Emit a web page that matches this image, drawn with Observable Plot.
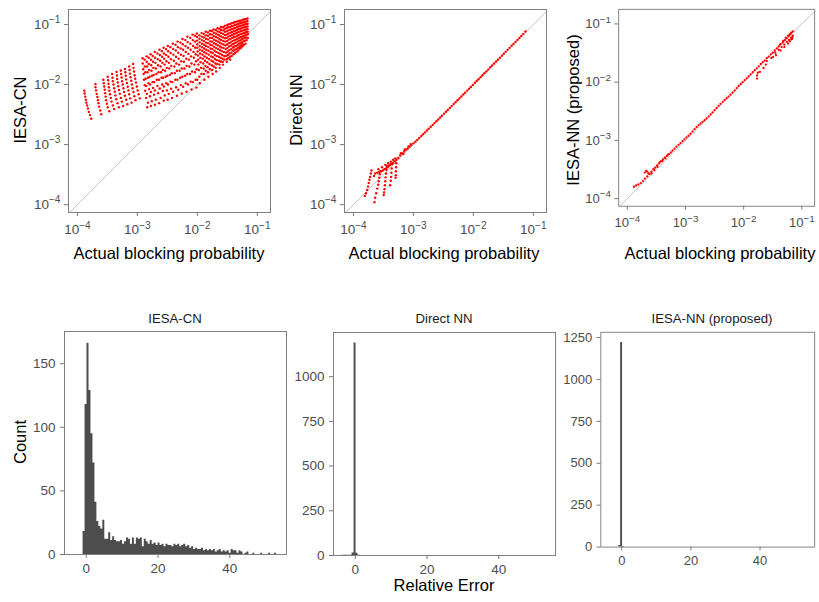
<!DOCTYPE html>
<html><head><meta charset="utf-8">
<script src="https://cdn.jsdelivr.net/npm/d3@7"></script>
<script src="https://cdn.jsdelivr.net/npm/@observablehq/plot@0.6"></script>
<style>
body{margin:0;background:#fff;}
#fig{position:relative;width:819px;height:602px;overflow:hidden;background:#fff;font-family:"Liberation Sans",Arial,sans-serif;}
.panel{position:absolute;}
.lbl{position:absolute;white-space:nowrap;line-height:0.65;transform:translate(-50%,-50%);color:#000;font-size:16.5px;}
.rot{transform:translate(-50%,-50%) rotate(-90deg);}
.strip{font-size:13.2px;color:#1a1a1a;}
</style></head><body><div id="fig"></div>
<script>
// ---------- text ----------
const modelNames = ["IESA-CN", "Direct NN", "IESA-NN (proposed)"];
const xTitle = "Actual blocking probability";
const countTitle = "Count";
const errTitle = "Relative Error";

// ---------- ticks ----------
const decadeTicks = [1e-4, 1e-3, 1e-2, 1e-1];
const errTicks = [0, 20, 40];
const countTicksCN = [0, 50, 100, 150];
const countTicksNN = [0, 250, 500, 750, 1000];
const countTicksProp = [0, 250, 500, 750, 1000, 1250];

// ---------- scatter data: [actual, estimate] ----------
const cnPoints = [
[1.30e-4,7.9e-3],[1.32e-4,7.1e-3],[1.35e-4,6.3e-3],[1.38e-4,5.6e-3],[1.41e-4,5.0e-3],[1.45e-4,4.5e-3],[1.50e-4,4.0e-3],[1.55e-4,3.5e-3],[1.62e-4,3.1e-3],[1.70e-4,2.7e-3],
[2.0e-4,1.02e-2],[2.0e-4,9.0e-3],[2.05e-4,8.0e-3],[2.1e-4,7.0e-3],[2.15e-4,6.2e-3],[2.2e-4,5.5e-3],[2.25e-4,4.9e-3],[2.3e-4,4.3e-3],[2.4e-4,3.7e-3],[2.5e-4,3.2e-3],
[2.7e-4,1.2e-2],[2.75e-4,1.05e-2],[2.8e-4,9.3e-3],[2.85e-4,8.2e-3],[2.9e-4,7.2e-3],[2.95e-4,6.3e-3],[3.0e-4,5.5e-3],[3.1e-4,4.8e-3],[3.2e-4,4.2e-3],[3.4e-4,3.6e-3],
[3.2e-4,1.35e-2],[3.25e-4,1.18e-2],[3.3e-4,1.03e-2],[3.35e-4,9.0e-3],[3.4e-4,7.9e-3],[3.5e-4,6.9e-3],[3.6e-4,6.0e-3],[3.7e-4,5.2e-3],[3.9e-4,4.5e-3],[4.1e-4,3.9e-3],
[3.8e-4,1.5e-2],[3.85e-4,1.3e-2],[3.9e-4,1.14e-2],[4.0e-4,1.0e-2],[4.1e-4,8.7e-3],[4.2e-4,7.6e-3],[4.3e-4,6.6e-3],[4.45e-4,5.7e-3],[4.65e-4,4.9e-3],[4.9e-4,4.2e-3],
[4.5e-4,1.62e-2],[4.55e-4,1.42e-2],[4.6e-4,1.24e-2],[4.7e-4,1.08e-2],[4.8e-4,9.4e-3],[4.95e-4,8.1e-3],[5.1e-4,7.0e-3],[5.3e-4,6.0e-3],[5.5e-4,5.2e-3],[5.8e-4,4.4e-3],
[5.3e-4,1.72e-2],[5.35e-4,1.5e-2],[5.45e-4,1.31e-2],[5.55e-4,1.14e-2],[5.7e-4,1.0e-2],[5.85e-4,8.7e-3],[6.0e-4,7.5e-3],[6.2e-4,6.5e-3],[6.5e-4,5.6e-3],[6.8e-4,4.7e-3],
[6.2e-4,1.82e-2],[6.3e-4,1.6e-2],[6.4e-4,1.4e-2],[6.5e-4,1.22e-2],[6.7e-4,1.06e-2],[6.9e-4,9.2e-3],[7.1e-4,8.0e-3],[7.3e-4,6.9e-3],[7.6e-4,5.9e-3],[8.0e-4,5.0e-3],
[7.3e-4,2.0e-2],[7.4e-4,1.75e-2],[7.5e-4,1.52e-2],[7.7e-4,1.33e-2],[7.9e-4,1.16e-2],[8.1e-4,1.0e-2],[8.3e-4,8.7e-3],[8.6e-4,7.5e-3],[8.9e-4,6.4e-3],[9.3e-4,5.5e-3],
[8.5e-4,2.2e-2],[8.6e-4,1.9e-2],[8.8e-4,1.65e-2],[9.0e-4,1.43e-2],[9.2e-4,1.25e-2],[9.5e-4,1.08e-2],[9.8e-4,9.3e-3],[1.01e-3,8.0e-3],[1.05e-3,6.9e-3],[1.1e-3,5.9e-3],
[1.22e-3,2.75e-2],[1.23e-3,2.25e-2],[1.25e-3,1.8e-2],[1.27e-3,1.5e-2],[1.29e-3,1.2e-2],[1.32e-3,9.8e-3],[1.35e-3,7.9e-3],[1.4e-3,6.0e-3],[1.46e-3,4.2e-3],
[1.32e-3,2.6e-2],[1.33e-3,2.0e-2],[1.35e-3,1.6e-2],[1.37e-3,1.25e-2],[1.4e-3,9.5e-3],[1.44e-3,7.0e-3],[1.5e-3,5.0e-3],
[1.42e-3,2.95e-2],[1.43e-3,2.4e-2],[1.45e-3,2.0e-2],[1.47e-3,1.6e-2],[1.5e-3,1.3e-2],[1.53e-3,1.05e-2],[1.57e-3,8.4e-3],[1.62e-3,6.4e-3],[1.68e-3,4.4e-3],
[1.54e-3,2.8e-2],[1.55e-3,2.2e-2],[1.57e-3,1.75e-2],[1.6e-3,1.35e-2],[1.63e-3,1.0e-2],[1.68e-3,7.5e-3],[1.74e-3,5.3e-3],
[1.66e-3,3.2e-2],[1.68e-3,2.6e-2],[1.7e-3,2.1e-2],[1.72e-3,1.7e-2],[1.75e-3,1.4e-2],[1.79e-3,1.1e-2],[1.83e-3,8.8e-3],[1.89e-3,6.8e-3],[1.96e-3,4.6e-3],
[1.8e-3,3.0e-2],[1.82e-3,2.4e-2],[1.84e-3,1.9e-2],[1.87e-3,1.45e-2],[1.91e-3,1.1e-2],[1.96e-3,8.0e-3],[2.03e-3,5.6e-3],
[1.95e-3,3.5e-2],[1.97e-3,2.8e-2],[2.0e-3,2.3e-2],[2.03e-3,1.85e-2],[2.07e-3,1.5e-2],[2.11e-3,1.2e-2],[2.16e-3,9.5e-3],[2.22e-3,7.2e-3],[2.3e-3,4.9e-3],
[2.16e-3,3.3e-2],[2.18e-3,2.65e-2],[2.21e-3,2.1e-2],[2.25e-3,1.6e-2],[2.3e-3,1.2e-2],[2.36e-3,8.6e-3],[2.44e-3,6.0e-3],
[2.34e-3,3.8e-2],[2.37e-3,3.1e-2],[2.4e-3,2.5e-2],[2.44e-3,2.0e-2],[2.48e-3,1.6e-2],[2.53e-3,1.3e-2],[2.59e-3,1.0e-2],[2.66e-3,7.8e-3],[2.75e-3,5.4e-3],
[2.56e-3,3.6e-2],[2.58e-3,2.9e-2],[2.61e-3,2.3e-2],[2.65e-3,1.75e-2],[2.7e-3,1.3e-2],[2.77e-3,9.3e-3],[2.86e-3,6.6e-3],
[2.74e-3,4.1e-2],[2.77e-3,3.3e-2],[2.8e-3,2.7e-2],[2.85e-3,2.15e-2],[2.9e-3,1.7e-2],[2.96e-3,1.35e-2],[3.03e-3,1.05e-2],[3.11e-3,8.0e-3],[3.2e-3,5.6e-3],
[3.0e-3,3.9e-2],[3.02e-3,3.1e-2],[3.06e-3,2.45e-2],[3.1e-3,1.9e-2],[3.16e-3,1.4e-2],[3.24e-3,1.0e-2],[3.34e-3,7.0e-3],
[3.22e-3,4.4e-2],[3.26e-3,3.6e-2],[3.3e-3,2.9e-2],[3.35e-3,2.3e-2],[3.41e-3,1.85e-2],[3.48e-3,1.45e-2],[3.56e-3,1.12e-2],[3.66e-3,8.5e-3],[3.78e-3,6.0e-3],
[3.55e-3,4.2e-2],[3.58e-3,3.35e-2],[3.62e-3,2.65e-2],[3.67e-3,2.05e-2],[3.74e-3,1.55e-2],[3.83e-3,1.1e-2],[3.95e-3,7.6e-3],
[3.9e-3,4.8e-2],[3.95e-3,3.9e-2],[4.0e-3,3.15e-2],[4.06e-3,2.5e-2],[4.13e-3,2.0e-2],[4.21e-3,1.55e-2],[4.3e-3,1.2e-2],[4.42e-3,9.0e-3],[4.56e-3,6.5e-3],
[4.33e-3,4.6e-2],[4.36e-3,3.7e-2],[4.41e-3,2.9e-2],[4.47e-3,2.25e-2],[4.55e-3,1.7e-2],[4.66e-3,1.2e-2],[4.8e-3,8.2e-3],
[4.68e-3,5.2e-2],[4.74e-3,4.2e-2],[4.8e-3,3.4e-2],[4.87e-3,2.7e-2],[4.96e-3,2.15e-2],[5.06e-3,1.7e-2],[5.18e-3,1.3e-2],[5.32e-3,9.8e-3],[5.5e-3,7.1e-3],
[5.22e-3,5.0e-2],[5.26e-3,4.0e-2],[5.32e-3,3.15e-2],[5.4e-3,2.45e-2],[5.5e-3,1.85e-2],[5.63e-3,1.35e-2],[5.8e-3,9.2e-3],
[5.65e-3,5.75e-2],[5.72e-3,4.7e-2],[5.8e-3,3.8e-2],[5.88e-3,3.0e-2],[5.98e-3,2.4e-2],[6.1e-3,1.85e-2],[6.25e-3,1.4e-2],[6.42e-3,1.05e-2],[6.62e-3,7.6e-3],
[6.3e-3,5.5e-2],[6.35e-3,4.4e-2],[6.42e-3,3.5e-2],[6.52e-3,2.7e-2],[6.64e-3,2.05e-2],[6.8e-3,1.5e-2],[7.0e-3,1.0e-2],
[6.82e-3,6.3e-2],[6.9e-3,5.1e-2],[7.0e-3,4.1e-2],[7.1e-3,3.25e-2],[7.22e-3,2.6e-2],[7.36e-3,2.0e-2],[7.54e-3,1.5e-2],[7.75e-3,1.12e-2],[8.0e-3,8.3e-3],
[7.6e-3,6.0e-2],[7.65e-3,4.8e-2],[7.73e-3,3.8e-2],[7.84e-3,2.95e-2],[7.98e-3,2.25e-2],[8.16e-3,1.65e-2],[8.4e-3,1.1e-2],
[8.3e-3,6.8e-2],[8.4e-3,5.5e-2],[8.5e-3,4.4e-2],[8.62e-3,3.5e-2],[8.76e-3,2.8e-2],[8.93e-3,2.15e-2],[9.13e-3,1.6e-2],[9.37e-3,1.2e-2],[9.65e-3,8.9e-3],
[9.08e-3,6.5e-2],[9.14e-3,5.2e-2],[9.22e-3,4.1e-2],[9.34e-3,3.2e-2],[9.5e-3,2.45e-2],[9.7e-3,1.8e-2],[9.95e-3,1.2e-2],
[9.8e-3,7.1e-2],[9.85e-3,6.2e-2],[9.9e-3,5.4e-2],[9.95e-3,4.7e-2],[1.0e-2,4.1e-2],[1.01e-2,3.55e-2],[1.02e-2,3.05e-2],[1.03e-2,2.6e-2],[1.04e-2,2.15e-2],[1.06e-2,1.75e-2],[1.08e-2,1.35e-2],[1.1e-2,1.05e-2],
[1.08e-2,6.6e-2],[1.085e-2,5.8e-2],[1.09e-2,5.05e-2],[1.095e-2,4.4e-2],[1.1e-2,3.8e-2],[1.11e-2,3.3e-2],[1.12e-2,2.8e-2],[1.13e-2,2.35e-2],[1.15e-2,1.9e-2],[1.17e-2,1.5e-2],
[1.18e-2,7.2e-2],[1.185e-2,6.3e-2],[1.19e-2,5.5e-2],[1.195e-2,4.8e-2],[1.2e-2,4.2e-2],[1.21e-2,3.65e-2],[1.22e-2,3.15e-2],[1.23e-2,2.7e-2],[1.25e-2,2.25e-2],[1.27e-2,1.85e-2],[1.29e-2,1.5e-2],[1.31e-2,1.2e-2],
[1.28e-2,7.0e-2],[1.285e-2,6.1e-2],[1.29e-2,5.3e-2],[1.295e-2,4.6e-2],[1.3e-2,4.0e-2],[1.31e-2,3.45e-2],[1.32e-2,2.95e-2],[1.34e-2,2.5e-2],[1.36e-2,2.05e-2],[1.38e-2,1.7e-2],
[1.38e-2,7.6e-2],[1.385e-2,6.6e-2],[1.39e-2,5.8e-2],[1.395e-2,5.0e-2],[1.4e-2,4.4e-2],[1.41e-2,3.8e-2],[1.42e-2,3.3e-2],[1.44e-2,2.8e-2],[1.46e-2,2.35e-2],[1.48e-2,1.95e-2],[1.5e-2,1.6e-2],[1.53e-2,1.35e-2],
[1.5e-2,7.4e-2],[1.505e-2,6.5e-2],[1.51e-2,5.65e-2],[1.515e-2,4.9e-2],[1.52e-2,4.25e-2],[1.53e-2,3.65e-2],[1.55e-2,3.15e-2],[1.57e-2,2.65e-2],[1.59e-2,2.2e-2],[1.62e-2,1.8e-2],
[1.62e-2,7.9e-2],[1.63e-2,6.9e-2],[1.64e-2,6.0e-2],[1.645e-2,5.25e-2],[1.65e-2,4.6e-2],[1.66e-2,4.0e-2],[1.68e-2,3.45e-2],[1.7e-2,2.95e-2],[1.72e-2,2.5e-2],[1.74e-2,2.1e-2],[1.77e-2,1.75e-2],[1.8e-2,1.5e-2],
[1.75e-2,7.8e-2],[1.755e-2,6.8e-2],[1.76e-2,5.95e-2],[1.765e-2,5.2e-2],[1.77e-2,4.5e-2],[1.78e-2,3.9e-2],[1.8e-2,3.35e-2],[1.82e-2,2.85e-2],[1.84e-2,2.4e-2],[1.87e-2,2.0e-2],
[1.87e-2,8.3e-2],[1.88e-2,7.3e-2],[1.89e-2,6.4e-2],[1.895e-2,5.6e-2],[1.9e-2,4.9e-2],[1.91e-2,4.25e-2],[1.93e-2,3.65e-2],[1.95e-2,3.1e-2],[1.97e-2,2.65e-2],[2.0e-2,2.25e-2],[2.03e-2,1.9e-2],[2.06e-2,1.65e-2],
[2.03e-2,8.1e-2],[2.035e-2,7.1e-2],[2.04e-2,6.2e-2],[2.045e-2,5.4e-2],[2.05e-2,4.7e-2],[2.06e-2,4.05e-2],[2.08e-2,3.5e-2],[2.1e-2,3.0e-2],[2.12e-2,2.55e-2],[2.15e-2,2.2e-2],
[2.17e-2,8.7e-2],[2.18e-2,7.7e-2],[2.19e-2,6.8e-2],[2.195e-2,6.0e-2],[2.2e-2,5.2e-2],[2.21e-2,4.5e-2],[2.23e-2,3.9e-2],[2.25e-2,3.35e-2],[2.28e-2,2.9e-2],[2.31e-2,2.5e-2],[2.34e-2,2.15e-2],[2.37e-2,1.9e-2],
[2.33e-2,8.5e-2],[2.335e-2,7.5e-2],[2.34e-2,6.55e-2],[2.345e-2,5.7e-2],[2.35e-2,5.0e-2],[2.37e-2,4.3e-2],[2.39e-2,3.75e-2],[2.41e-2,3.25e-2],[2.44e-2,2.8e-2],[2.47e-2,2.4e-2],
[2.47e-2,9.1e-2],[2.48e-2,8.1e-2],[2.49e-2,7.2e-2],[2.495e-2,6.3e-2],[2.5e-2,5.5e-2],[2.52e-2,4.8e-2],[2.54e-2,4.15e-2],[2.56e-2,3.6e-2],[2.59e-2,3.1e-2],[2.62e-2,2.7e-2],[2.65e-2,2.4e-2],[2.68e-2,2.15e-2],
[2.67e-2,9.0e-2],[2.68e-2,8.0e-2],[2.69e-2,7.0e-2],[2.695e-2,6.1e-2],[2.7e-2,5.35e-2],[2.72e-2,4.65e-2],[2.74e-2,4.05e-2],[2.77e-2,3.5e-2],[2.8e-2,3.0e-2],[2.83e-2,2.6e-2],
[2.86e-2,9.5e-2],[2.87e-2,8.5e-2],[2.88e-2,7.6e-2],[2.89e-2,6.7e-2],[2.9e-2,5.9e-2],[2.92e-2,5.2e-2],[2.94e-2,4.5e-2],[2.97e-2,3.9e-2],[3.0e-2,3.4e-2],[3.03e-2,3.0e-2],[3.07e-2,2.65e-2],[3.1e-2,2.4e-2],
[3.07e-2,9.7e-2],[3.08e-2,8.7e-2],[3.09e-2,7.7e-2],[3.095e-2,6.8e-2],[3.1e-2,6.0e-2],[3.12e-2,5.3e-2],[3.14e-2,4.65e-2],[3.17e-2,4.05e-2],[3.2e-2,3.55e-2],[3.23e-2,3.1e-2],[3.27e-2,2.75e-2],
[3.26e-2,1.0e-1],[3.27e-2,9.0e-2],[3.28e-2,8.0e-2],[3.29e-2,7.1e-2],[3.3e-2,6.3e-2],[3.32e-2,5.6e-2],[3.35e-2,4.9e-2],[3.38e-2,4.3e-2],[3.41e-2,3.75e-2],[3.45e-2,3.3e-2],[3.49e-2,2.9e-2],[3.53e-2,2.6e-2],
[3.52e-2,1.02e-1],[3.53e-2,9.1e-2],[3.54e-2,8.2e-2],[3.545e-2,7.3e-2],[3.55e-2,6.5e-2],[3.57e-2,5.75e-2],[3.6e-2,5.05e-2],[3.63e-2,4.45e-2],[3.66e-2,3.9e-2],[3.7e-2,3.4e-2],[3.74e-2,3.0e-2],
[3.75e-2,1.05e-1],[3.76e-2,9.4e-2],[3.78e-2,8.4e-2],[3.79e-2,7.5e-2],[3.8e-2,6.7e-2],[3.82e-2,6.0e-2],[3.85e-2,5.3e-2],[3.88e-2,4.7e-2],[3.92e-2,4.15e-2],[3.96e-2,3.65e-2],[4.0e-2,3.2e-2],
[4.02e-2,1.07e-1],[4.03e-2,9.6e-2],[4.04e-2,8.6e-2],[4.045e-2,7.7e-2],[4.05e-2,6.9e-2],[4.07e-2,6.15e-2],[4.1e-2,5.45e-2],[4.13e-2,4.85e-2],[4.17e-2,4.3e-2],[4.21e-2,3.8e-2],[4.25e-2,3.35e-2],
[4.25e-2,1.1e-1],[4.26e-2,9.8e-2],[4.28e-2,8.8e-2],[4.29e-2,7.9e-2],[4.3e-2,7.1e-2],[4.32e-2,6.3e-2],[4.35e-2,5.6e-2],[4.38e-2,5.0e-2],[4.42e-2,4.4e-2],[4.46e-2,3.9e-2],[4.5e-2,3.5e-2],
[4.56e-2,1.12e-1],[4.57e-2,1.0e-1],[4.58e-2,9.0e-2],[4.59e-2,8.1e-2],[4.6e-2,7.3e-2],[4.62e-2,6.5e-2],[4.65e-2,5.8e-2],[4.68e-2,5.2e-2],[4.72e-2,4.6e-2],[4.76e-2,4.1e-2],[4.8e-2,3.7e-2],
[4.85e-2,1.15e-1],[4.86e-2,1.03e-1],[4.87e-2,9.3e-2],[4.89e-2,8.4e-2],[4.9e-2,7.5e-2],[4.92e-2,6.7e-2],[4.95e-2,6.0e-2],[4.98e-2,5.4e-2],[5.02e-2,4.8e-2],[5.06e-2,4.3e-2],[5.1e-2,4.0e-2],
[5.16e-2,1.16e-1],[5.17e-2,1.05e-1],[5.18e-2,9.5e-2],[5.19e-2,8.5e-2],[5.2e-2,7.7e-2],[5.22e-2,6.9e-2],[5.25e-2,6.15e-2],[5.28e-2,5.5e-2],[5.32e-2,4.95e-2],[5.36e-2,4.5e-2],[5.4e-2,4.15e-2],
[5.44e-2,1.17e-1],[5.45e-2,1.06e-1],[5.47e-2,9.6e-2],[5.48e-2,8.7e-2],[5.5e-2,7.8e-2],[5.52e-2,7.0e-2],[5.55e-2,6.3e-2],[5.58e-2,5.7e-2],[5.62e-2,5.1e-2],[5.66e-2,4.7e-2],[5.7e-2,4.4e-2],
[5.8e-2,1.2e-1],[5.81e-2,1.08e-1],[5.82e-2,9.8e-2],[5.83e-2,8.9e-2],[5.85e-2,8.0e-2],[5.87e-2,7.2e-2],[5.9e-2,6.5e-2],[5.93e-2,5.9e-2],[5.97e-2,5.3e-2],[6.0e-2,4.6e-2],
[6.14e-2,1.23e-1],[6.15e-2,1.11e-1],[6.17e-2,1.0e-1],[6.18e-2,9.0e-2],[6.2e-2,8.1e-2],[6.22e-2,7.3e-2],[6.25e-2,6.6e-2],[6.28e-2,6.0e-2],[6.32e-2,5.4e-2],[6.36e-2,4.8e-2],
[6.5e-2,1.24e-1],[6.51e-2,1.12e-1],[6.52e-2,1.02e-1],[6.53e-2,9.2e-2],[6.55e-2,8.3e-2],[6.57e-2,7.5e-2],[6.6e-2,6.8e-2],[6.63e-2,6.1e-2],[6.66e-2,5.5e-2],
[6.85e-2,1.26e-1],[6.86e-2,1.14e-1],[6.87e-2,1.03e-1],[6.88e-2,9.3e-2],[6.9e-2,8.4e-2],[6.92e-2,7.6e-2],[6.95e-2,6.9e-2],[6.98e-2,6.0e-2]
];

const nnPoints = [
[2.0e-4,3.7e-4],[1.95e-4,3.3e-4],[1.9e-4,2.9e-4],[1.85e-4,2.6e-4],[1.8e-4,2.3e-4],[1.75e-4,2.0e-4],[1.7e-4,1.75e-4],[1.62e-4,1.55e-4],[1.55e-4,1.4e-4],
[2.8e-4,3.6e-4],[2.75e-4,3.2e-4],[2.7e-4,2.8e-4],[2.65e-4,2.45e-4],[2.6e-4,2.15e-4],[2.5e-4,1.85e-4],[2.4e-4,1.55e-4],[2.3e-4,1.3e-4],[2.24e-4,1.1e-4],
[3.6e-4,4.4e-4],[3.55e-4,3.8e-4],[3.5e-4,3.3e-4],[3.45e-4,2.85e-4],[3.4e-4,2.45e-4],[3.35e-4,2.1e-4],[3.3e-4,1.8e-4],[3.25e-4,1.6e-4],[3.2e-4,1.45e-4],
[4.4e-4,4.7e-4],[4.35e-4,4.0e-4],[4.3e-4,3.4e-4],[4.25e-4,2.9e-4],[4.2e-4,2.5e-4],[4.1e-4,2.1e-4],
[5.2e-4,4.9e-4],[5.15e-4,4.2e-4],[5.1e-4,3.6e-4],[5.1e-4,3.1e-4],[5.05e-4,2.8e-4],
[2.2e-4,3.0e-4],[2.3e-4,3.3e-4],[2.5e-4,3.4e-4],[2.7e-4,3.5e-4],[2.9e-4,3.6e-4],[3.1e-4,3.7e-4],[3.3e-4,3.9e-4],[3.5e-4,4.0e-4],[3.7e-4,4.2e-4],[3.9e-4,4.4e-4],[4.1e-4,4.6e-4],[4.3e-4,4.8e-4],[4.6e-4,5.0e-4],[4.9e-4,5.3e-4],[5.2e-4,5.6e-4],[5.6e-4,6.0e-4],
[2.6e-4,3.9e-4],[3.0e-4,4.2e-4],[3.4e-4,4.6e-4],[3.8e-4,4.9e-4],[4.2e-4,5.2e-4],[4.6e-4,5.6e-4],[5.0e-4,5.9e-4],
[6.2e-4,7.2e-4],[7.2e-4,8.3e-4],[8.3e-4,9.3e-4],[6.8e-4,7.0e-4],[9.0e-4,1.02e-3],
[6.0e-4,6.6e-4],[6.5e-4,7.1e-4],[7.0e-4,7.7e-4],[7.5e-4,8.2e-4],[8.0e-4,8.6e-4],[8.6e-4,9.2e-4],[9.2e-4,9.8e-4],[1.0e-3,1.05e-3],[1.08e-3,1.12e-3],[1.16e-3,1.2e-3],
[1.25e-3,1.29e-3],[1.35e-3,1.39e-3],[1.45e-3,1.49e-3],[1.56e-3,1.6e-3],[1.68e-3,1.72e-3],[1.8e-3,1.84e-3],[1.94e-3,1.98e-3],[2.1e-3,2.13e-3],[2.25e-3,2.28e-3],[2.42e-3,2.45e-3],
[2.6e-3,2.63e-3],[2.8e-3,2.83e-3],[3.0e-3,3.03e-3],[3.25e-3,3.28e-3],[3.5e-3,3.53e-3],[3.75e-3,3.78e-3],[4.05e-3,4.08e-3],[4.35e-3,4.38e-3],[4.7e-3,4.73e-3],[5.05e-3,5.08e-3],
[5.45e-3,5.48e-3],[5.85e-3,5.88e-3],[6.3e-3,6.33e-3],[6.8e-3,6.83e-3],[7.3e-3,7.34e-3],[7.9e-3,7.94e-3],[8.5e-3,8.55e-3],[9.1e-3,9.15e-3],[9.8e-3,9.86e-3],[1.06e-2,1.07e-2],
[1.14e-2,1.15e-2],[1.22e-2,1.23e-2],[1.32e-2,1.33e-2],[1.42e-2,1.43e-2],[1.53e-2,1.54e-2],[1.65e-2,1.66e-2],[1.78e-2,1.79e-2],[1.92e-2,1.94e-2],[2.06e-2,2.08e-2],[2.22e-2,2.24e-2],
[2.4e-2,2.42e-2],[2.58e-2,2.6e-2],[2.78e-2,2.81e-2],[3.0e-2,3.03e-2],[3.22e-2,3.26e-2],[3.47e-2,3.51e-2],[3.74e-2,3.79e-2],[4.03e-2,4.09e-2],[4.35e-2,4.42e-2],[4.68e-2,4.76e-2],
[5.05e-2,5.14e-2],[5.44e-2,5.55e-2],[5.86e-2,5.98e-2],[6.3e-2,6.45e-2],[6.8e-2,6.98e-2],[7.4e-2,7.65e-2]
];

const propPoints = [
[1.30e-4,1.60e-4],[1.42e-4,1.68e-4],[1.55e-4,1.75e-4],[1.7e-4,1.85e-4],[1.85e-4,2.0e-4],[2.0e-4,2.2e-4],
[2.0e-4,2.8e-4],[2.1e-4,3.0e-4],[2.2e-4,2.9e-4],
[2.2e-4,2.4e-4],[2.4e-4,2.65e-4],[2.6e-4,2.9e-4],[2.8e-4,3.2e-4],[3.0e-4,3.4e-4],[3.25e-4,3.7e-4],[3.5e-4,4.0e-4],[3.8e-4,4.4e-4],[4.1e-4,4.7e-4],[4.4e-4,5.1e-4],
[4.8e-4,5.4e-4],[5.2e-4,5.8e-4],[5.6e-4,6.2e-4],[6.0e-4,6.7e-4],[6.5e-4,7.2e-4],[7.0e-4,7.8e-4],[7.6e-4,8.4e-4],[8.2e-4,9.0e-4],[8.9e-4,9.7e-4],[9.6e-4,1.04e-3],
[2.3e-4,2.7e-4],[2.6e-4,2.7e-4],[2.9e-4,3.1e-4],[3.3e-4,3.5e-4],[3.6e-4,4.2e-4],[4.0e-4,4.4e-4],[4.5e-4,4.9e-4],[5.0e-4,5.7e-4],
[1.04e-3,1.12e-3],[1.13e-3,1.2e-3],[1.22e-3,1.3e-3],[1.32e-3,1.42e-3],[1.43e-3,1.56e-3],[1.55e-3,1.7e-3],[1.68e-3,1.83e-3],[1.82e-3,1.95e-3],[1.97e-3,2.08e-3],[2.13e-3,2.22e-3],
[2.3e-3,2.38e-3],[2.5e-3,2.56e-3],[2.7e-3,2.78e-3],[2.92e-3,3.02e-3],[3.16e-3,3.3e-3],[3.42e-3,3.6e-3],[3.7e-3,3.92e-3],[4.0e-3,4.25e-3],[4.35e-3,4.6e-3],[4.7e-3,4.95e-3],
[5.1e-3,5.3e-3],[5.5e-3,5.65e-3],[5.95e-3,6.1e-3],[6.45e-3,6.6e-3],[7.0e-3,7.2e-3],[7.6e-3,7.9e-3],[8.2e-3,8.6e-3],[8.9e-3,9.3e-3],[9.6e-3,1.0e-2],[1.04e-2,1.08e-2],
[1.13e-2,1.16e-2],[1.22e-2,1.25e-2],[1.32e-2,1.36e-2],[1.43e-2,1.48e-2],[1.55e-2,1.6e-2],[1.68e-2,1.73e-2],[1.82e-2,1.87e-2],[1.97e-2,2.05e-2],[2.13e-2,2.2e-2],[2.3e-2,2.35e-2],
[2.5e-2,2.58e-2],[2.7e-2,2.75e-2],[2.92e-2,3.0e-2],[3.16e-2,3.2e-2],[3.42e-2,3.5e-2],[3.7e-2,3.8e-2],[4.0e-2,4.1e-2],[4.35e-2,4.5e-2],[4.7e-2,4.8e-2],[5.1e-2,5.3e-2],
[5.5e-2,5.7e-2],[5.95e-2,6.2e-2],[6.45e-2,6.8e-2],[7.0e-2,7.4e-2],
[3.0e-2,2.6e-2],[3.5e-2,3.2e-2],[4.0e-2,3.6e-2],[4.5e-2,4.0e-2],[5.0e-2,4.4e-2],[5.5e-2,4.9e-2],[6.0e-2,5.3e-2],[6.5e-2,5.8e-2],[7.0e-2,6.3e-2],[6.8e-2,5.5e-2],
[4.2e-2,4.4e-2],[5.3e-2,5.8e-2],[6.2e-2,6.6e-2],[6.6e-2,7.1e-2],[5.8e-2,6.3e-2],[4.8e-2,5.1e-2],
[1.7e-2,1.15e-2],[1.7e-2,1.3e-2],[1.75e-2,1.45e-2],[1.9e-2,1.5e-2],[2.2e-2,1.75e-2],[2.4e-2,2.0e-2],[2.5e-2,2.3e-2],
[4.3e-2,3.5e-2],[5.0e-2,4.0e-2],[5.8e-2,4.6e-2],[6.2e-2,5.0e-2],[6.6e-2,5.4e-2],[6.9e-2,5.9e-2],[3.2e-2,2.7e-2],[3.6e-2,2.9e-2]
];

// ---------- histogram data (relative error, counts per bin) ----------
const binStart = -3.625;
const binWidth = 0.55;
const cnCounts = [0,0,0,0,0,
18,118,166,129,95,72,41,26,22,20,27,12,12,17,11,14,11,10,10,11,8,10,13,12,8,13,8,13,12,13,6,12,10,8,11,8,9,7,9,7,8,6,8,7,7,6,
8,7,8,6,7,8,6,7,5,6,4,5,4,4,5,3,4,3,4,3,4,2,3,4,2,3,2,3,1,4,3,3,1,3,2,0,1,2,0,0,1,0,0,0,1,0,0,0,1,0,0,1,0,0];
const nnCounts = [1,1,2,1,2,14,1188,12,2];
const propCounts = [0,0,0,0,1,9,1220,4,1];

// ---------- helpers ----------
const FONT = '"Liberation Sans", Arial, sans-serif';
const SVG_STYLE = `font-family: ${FONT}; font-size: 13.5px; color: #4d4d4d; background: transparent; overflow: visible;`;
const TICK_FS = 13.5;
const fig = document.getElementById("fig");
const identityLine = [1e-5, 1];
const expFmt = d => "10^" + String(Math.round(Math.log10(d))).replace("-", "\u2212");
const intFmt = d => String(d);

function supTicks(svg) {
  svg.querySelectorAll('g[aria-label$="tick label"] text').forEach(t => {
    const s = t.textContent;
    if (!s.includes("^")) return;
    const [base, exp] = s.split("^");
    t.textContent = base;
    const ts = document.createElementNS("http://www.w3.org/2000/svg", "tspan");
    ts.setAttribute("dy", "-0.55em");
    ts.setAttribute("font-size", "0.75em");
    ts.textContent = exp;
    t.appendChild(ts);
  });
}

function place(node, left, top) {
  const d = document.createElement("div");
  d.className = "panel";
  d.style.left = left + "px";
  d.style.top = top + "px";
  d.appendChild(node);
  fig.appendChild(d);
}

function label(text, x, y, cls) {
  const d = document.createElement("div");
  d.className = "lbl" + (cls ? " " + cls : "");
  d.style.left = x + "px";
  d.style.top = y + "px";
  d.textContent = text;
  fig.appendChild(d);
}

function scatter(points) {
  const svg = Plot.plot({
    width: 267, height: 263,
    marginLeft: 60, marginRight: 5, marginTop: 5, marginBottom: 55,
    style: SVG_STYLE,
    x: {type: "log", domain: [7.1e-5, 0.166]},
    y: {type: "log", domain: [7.4e-5, 0.178]},
    marks: [
      Plot.line(identityLine, {x: d => d, y: d => d, stroke: "#a8a8a8", strokeWidth: 0.7, clip: true}),
      Plot.dot(points, {x: d => d[0], y: d => d[1], r: 1.2, fill: "#ff0000", stroke: null}),
      Plot.frame({stroke: "#808080"}),
      Plot.axisX({ticks: decadeTicks, tickFormat: expFmt, tickSize: 4, tickPadding: 8, stroke: "#777", fill: "#4d4d4d", fontSize: TICK_FS, label: null}),
      Plot.axisY({ticks: decadeTicks, tickFormat: expFmt, tickSize: 4, tickPadding: 4, stroke: "#777", fill: "#4d4d4d", fontSize: TICK_FS, label: null})
    ]
  });
  supTicks(svg);
  return svg;
}

function hist(counts, ymax, yticks) {
  // step outline of the histogram: left edge of each bin with its count, closed at the last right edge
  const steps = counts.map((c, i) => ({edge: binStart + i * binWidth, count: c}));
  steps.push({edge: binStart + counts.length * binWidth, count: 0});
  return Plot.plot({
    width: 272, height: 253,
    marginLeft: 45, marginRight: 5, marginTop: 5, marginBottom: 25,
    style: SVG_STYLE,
    x: {domain: [-6.05, 55.8]},
    y: {domain: [0, ymax]},
    marks: [
      Plot.areaY(steps, {x: "edge", y1: 0, y2: "count", curve: "step-after", fill: "#4d4d4d"}),
      Plot.frame({stroke: "#808080"}),
      Plot.axisX({ticks: errTicks, tickFormat: intFmt, tickSize: 4, tickPadding: 5, stroke: "#777", fill: "#4d4d4d", fontSize: TICK_FS, label: null}),
      Plot.axisY({ticks: yticks, tickFormat: intFmt, tickSize: 4, tickPadding: 5, stroke: "#777", fill: "#4d4d4d", fontSize: TICK_FS, label: null})
    ]
  });
}

// ---------- top row ----------
place(scatter(cnPoints), 8, 4);
place(scatter(nnPoints), 284, 4);
place(scatter(propPoints), 560, 4);
label(modelNames[0], 20, 110, "rot");
label(modelNames[1], 296, 110, "rot");
label(modelNames[2], 573, 110, "rot");
label(xTitle, 169, 253);
label(xTitle, 444, 253);
label(xTitle, 720, 253);

// ---------- bottom row ----------
place(hist(cnCounts, 175.3, countTicksCN), 19, 326);
place(hist(nnCounts, 1247, countTicksNN), 288, 327);
place(hist(propCounts, 1281, countTicksProp), 557, 327);
label(modelNames[0], 175, 319, "strip");
label(modelNames[1], 444, 319, "strip");
label(modelNames[2], 712, 319, "strip");
label(countTitle, 20, 442, "rot");
label(errTitle, 444, 585);
</script></body></html>
